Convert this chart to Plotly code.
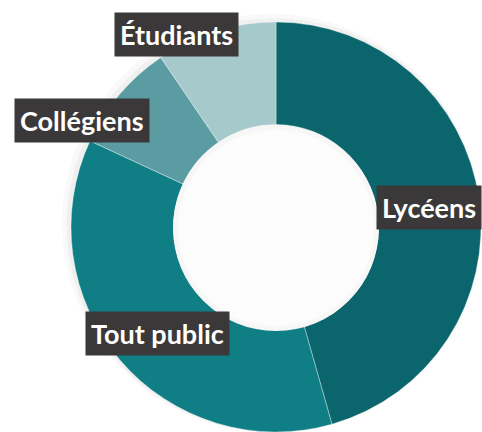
import plotly.graph_objects as go

# share of the public, clockwise from 12 o'clock
publics = ["Lycéens", "Tout public", "Collégiens", "Étudiants"]
parts = [45.6, 36.3, 8.6, 9.5]
colours = ["#0a666c", "#0f7e85", "#5a9ca1", "#a6c9cc"]

# where each dark label box sits (paper coords)
label_x = [0.890, 0.326, 0.171, 0.367]
label_y = [0.520, 0.228, 0.720, 0.919]

fig = go.Figure()

# faint shadow round the ring
for dom, col in [(dict(x=[0.125, 1.0], y=[0.0, 0.968]), "rgba(0,0,0,0.025)"),
                 (dict(x=[0.135, 1.0], y=[0.0, 0.958]), "rgba(0,0,0,0.035)")]:
    fig.add_trace(go.Pie(
        values=[1], labels=["ombre"], sort=False, domain=dom,
        marker=dict(colors=[col], line=dict(width=0)),
        textinfo="none", hoverinfo="skip", showlegend=False,
    ))

fig.add_trace(go.Pie(
    labels=publics,
    values=parts,
    sort=False,
    direction="clockwise",
    rotation=0,
    hole=0.5,
    domain=dict(x=[0.1452, 1.0], y=[0.0, 0.949]),
    marker=dict(colors=colours, line=dict(color="rgba(255,255,255,0.35)", width=1)),
    textinfo="none",
    hoverinfo="label+percent",
    showlegend=False,
))

# slightly grey hole, as in the original
fig.add_trace(go.Pie(
    values=[1], labels=["centre"], sort=False,
    domain=dict(x=[0.3589, 0.7863], y=[0.2338, 0.7106]),
    marker=dict(colors=["#f7f7f7"], line=dict(width=0)),
    textinfo="none", hoverinfo="skip", showlegend=False,
))
fig.add_trace(go.Pie(
    values=[1], labels=["centre2"], sort=False,
    domain=dict(x=[0.3689, 0.7763], y=[0.2450, 0.6994]),
    marker=dict(colors=["#fcfcfc"], line=dict(width=0)),
    textinfo="none", hoverinfo="skip", showlegend=False,
))

for name, lx, ly in zip(publics, label_x, label_y):
    fig.add_annotation(
        x=lx, y=ly, xref="paper", yref="paper",
        text="<b>%s</b>" % name, showarrow=False,
        font=dict(family="Lato", size=27, color="white"),
        bgcolor="#3a3838", borderpad=5,
        xanchor="center", yanchor="middle",
    )

fig.update_layout(
    width=482, height=432,
    margin=dict(l=0, r=0, t=0, b=0),
    paper_bgcolor="white",
    plot_bgcolor="white",
)

fig.write_html("out.html", config={"displayModeBar": False},
               post_script="document.body.style.margin='0';")
